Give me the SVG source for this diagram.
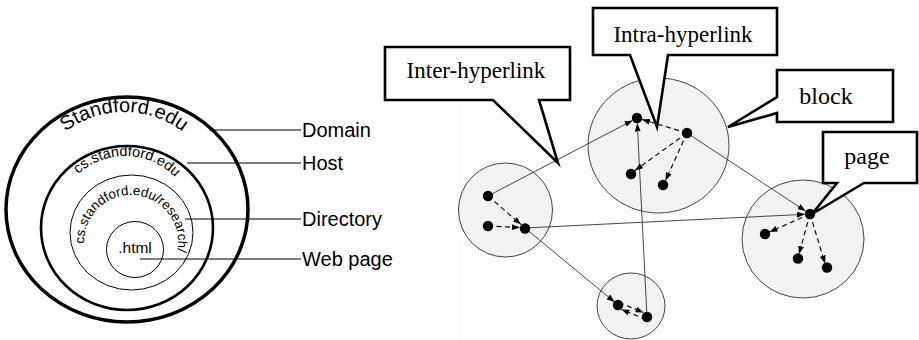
<svg xmlns="http://www.w3.org/2000/svg" width="919" height="340" viewBox="0 0 919 340">
<style>
.sans{font-family:"Liberation Sans",Arial,sans-serif;fill:#000}
.serif{font-family:"Liberation Serif","Times New Roman",serif;fill:#000}
.ring{fill:none;stroke:#000}
.lead{stroke:#000;stroke-width:1.2;fill:none}
.block{fill:#f2f2f2;stroke:#444;stroke-width:1}
.dot{fill:#000}
.inter{stroke:#333;stroke-width:0.9;fill:none;marker-end:url(#ah)}
.intra{stroke:#111;stroke-width:1.2;stroke-dasharray:5,3.5;fill:none;marker-end:url(#ah)}
.callout{fill:#fff;stroke:#000;stroke-width:2.6;stroke-linejoin:miter}
</style>
<defs>
<marker id="ah" viewBox="0 0 8 6" refX="8" refY="3" markerWidth="8" markerHeight="6" markerUnits="userSpaceOnUse" orient="auto">
<path d="M0,0 L8,3 L0,6 z" fill="#000"/>
</marker>
<path id="arcDomain" d="M124,306 A97,97 0 0 1 124,112 A97,97 0 0 1 124,306"/>
<path id="arcHost" d="M125,296 A70,70 0 0 1 125,156 A70,70 0 0 1 125,296"/>
<path id="arcDir" d="M131,289 A47,47 0 0 1 131,195 A47,47 0 0 1 131,289"/>
</defs>

<!-- Left: URL hierarchy -->
<g id="domain">
<ellipse class="ring" cx="127" cy="209.5" rx="121" ry="112.5" stroke-width="3.5"/>
<text class="sans" font-size="20" text-anchor="middle"><textPath href="#arcDomain" startOffset="50%">Standford.edu</textPath></text>
</g>
<g id="host">
<ellipse class="ring" cx="127" cy="228" rx="86" ry="82" stroke-width="2.6"/>
<text class="sans" font-size="14.5" text-anchor="middle"><textPath href="#arcHost" startOffset="50.5%">cs.standford.edu</textPath></text>
</g>
<g id="directory">
<ellipse class="ring" cx="131.5" cy="232.5" rx="61.5" ry="57.5" stroke-width="1"/>
<text class="sans" font-size="13.4" text-anchor="middle"><textPath href="#arcDir" startOffset="51.4%">cs.standford.edu/research/</textPath></text>
</g>
<g id="webpage">
<ellipse class="ring" cx="135" cy="249.5" rx="28.5" ry="28" stroke-width="1"/>
<text class="sans" font-size="15.5" x="135" y="253" text-anchor="middle">.html</text>
</g>
<g id="left-leaders">
<line class="lead" x1="209" y1="130" x2="301" y2="130"/>
<line class="lead" x1="187" y1="163" x2="301" y2="163"/>
<line class="lead" x1="185" y1="219" x2="301" y2="219"/>
<line class="lead" x1="140" y1="259" x2="301" y2="259"/>
</g>
<g id="labels">
<text class="sans" font-size="20" x="302" y="137">Domain</text>
<text class="sans" font-size="20" x="302" y="170">Host</text>
<text class="sans" font-size="20" x="302" y="226">Directory</text>
<text class="sans" font-size="20" x="302" y="266">Web page</text>
</g>

<!-- Right: blocks and pages -->
<rect x="457" y="62" width="462" height="278" fill="#fdfdfd"/>
<g id="block-A"><circle class="block" cx="505.5" cy="210" r="47"/></g>
<g id="block-B"><ellipse class="block" cx="658.5" cy="145.5" rx="70.5" ry="67.5"/></g>
<g id="block-C"><ellipse class="block" cx="803" cy="239" rx="61" ry="59"/></g>
<g id="block-D"><ellipse class="block" cx="631" cy="306" rx="34" ry="33"/></g>

<g id="connectors">
<!-- inter-hyperlinks (solid) -->
<line class="inter" x1="488" y1="196" x2="632.5" y2="120.5"/>
<line class="inter" x1="687" y1="133" x2="805.5" y2="211"/>
<line class="inter" x1="525" y1="228" x2="805" y2="214.3"/>
<line class="inter" x1="525" y1="228" x2="614.5" y2="302"/>
<line class="inter" x1="647" y1="317" x2="637.3" y2="123.5"/>
<!-- intra-hyperlinks (dashed) -->
<line class="intra" x1="687" y1="133" x2="642" y2="119.5"/>
<line class="intra" x1="687" y1="133" x2="635" y2="170.5"/>
<line class="intra" x1="687" y1="133" x2="665.5" y2="180.5"/>
<line class="intra" x1="488" y1="196" x2="521" y2="224.5"/>
<line class="intra" x1="488" y1="226" x2="520" y2="227.5"/>
<line class="intra" x1="810" y1="214" x2="769.5" y2="232"/>
<line class="intra" x1="810" y1="214" x2="799" y2="254"/>
<line class="intra" x1="810" y1="214" x2="825" y2="263.5"/>
<line class="intra" x1="619" y1="302.5" x2="643.5" y2="312.5"/>
<line class="intra" x1="646" y1="319.5" x2="621.5" y2="309.5"/>
</g>

<g id="pages">
<circle class="dot" cx="488" cy="196" r="5.2"/>
<circle class="dot" cx="488" cy="226" r="5.2"/>
<circle class="dot" cx="525" cy="228.5" r="5.2"/>
<circle class="dot" cx="637" cy="118" r="5.2"/>
<circle class="dot" cx="687" cy="133" r="5.2"/>
<circle class="dot" cx="631" cy="174" r="5.2"/>
<circle class="dot" cx="663" cy="185" r="5.2"/>
<circle class="dot" cx="810" cy="214" r="5.2"/>
<circle class="dot" cx="765" cy="234" r="5.2"/>
<circle class="dot" cx="798" cy="258.5" r="5.2"/>
<circle class="dot" cx="827" cy="267.5" r="5.2"/>
<circle class="dot" cx="618" cy="305" r="5.2"/>
<circle class="dot" cx="647" cy="317" r="5.2"/>
</g>

<g id="callout-inter">
<path class="callout" d="M385,47 H570 V100 H539 L558,163 L493,100 H385 Z"/>
<text class="serif" font-size="23" x="476" y="78" text-anchor="middle">Inter-hyperlink</text>
</g>
<g id="callout-intra">
<path class="callout" d="M593,8 H777 V55 H668 L657,127 L630,55 H593 Z"/>
<text class="serif" font-size="23" x="683" y="42" text-anchor="middle">Intra-hyperlink</text>
</g>
<g id="callout-block">
<path class="callout" d="M777,70 H893 V122 H777 V113 L728,127 L777,97 Z"/>
<text class="serif" font-size="24" x="826" y="104" text-anchor="middle">block</text>
</g>
<g id="callout-page">
<path class="callout" d="M823,132 H917 V183 H864 L812,214 L837,183 H823 Z"/>
<text class="serif" font-size="24" x="867" y="164" text-anchor="middle">page</text>
</g>
</svg>
